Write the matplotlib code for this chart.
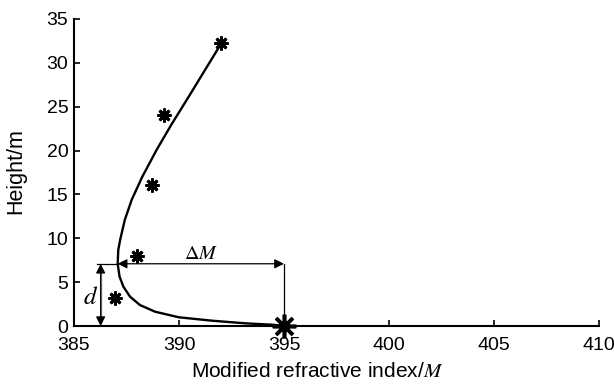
import matplotlib
matplotlib.use("Agg")
import matplotlib.pyplot as plt

plt.rcParams['font.family'] = ['Liberation Sans', 'DejaVu Sans']
plt.rcParams['mathtext.fontset'] = 'stix'

# Fitted profile (M, height)
curve_M = [395.0, 394.5, 393.2, 391.6, 390.0, 388.86, 388.14, 387.67, 387.35,
           387.17, 387.08, 387.11, 387.2, 387.42, 387.75, 388.25, 388.94,
           389.65, 390.48, 391.22, 392.0]
curve_h = [0.0, 0.15, 0.31, 0.61, 1.0, 1.64, 2.4, 3.35, 4.5,
           5.64, 7.1, 8.7, 9.84, 12.1, 14.4, 17.0, 20.1,
           23.0, 26.2, 29.1, 32.15]

# Measured points
meas_M = [392.0, 389.3, 388.7, 388.0, 386.95]
meas_h = [32.2, 24.0, 16.1, 8.0, 3.2]
surf_M = [395.0]
surf_h = [0.0]

duct_d = 7.1
duct_left = 386.1
duct_arrow_x = 386.27
curve_min = 387.08

xticks = [385, 390, 395, 400, 405, 410]
yticks = [0, 5, 10, 15, 20, 25, 30, 35]

fig = plt.figure(figsize=(6.14, 3.85), dpi=100)
ax = fig.add_axes([0.1205, 0.153, 0.855, 0.798])

ax.plot(curve_M, curve_h, color='black', lw=1.7, zorder=3,
        solid_joinstyle='round', solid_capstyle='round')
ax.plot(meas_M, meas_h, linestyle='none', marker=(8, 2, 0), markersize=10,
        markeredgewidth=2.0, color='black', zorder=4)
ax.plot(surf_M, surf_h, linestyle='none', marker=(8, 2, 0), markersize=17,
        markeredgewidth=2.6, color='black', zorder=5, clip_on=False)

# duct annotation lines
ax.plot([duct_left, curve_min], [duct_d, duct_d], color='black', lw=0.9)
ax.annotate('', xy=(curve_min, duct_d), xytext=(395.0, duct_d),
            arrowprops=dict(arrowstyle='<|-|>', color='black', lw=0.9,
                            mutation_scale=14, shrinkA=0, shrinkB=0))
ax.plot([395.0, 395.0], [0, duct_d], color='black', lw=0.9)
ax.annotate('', xy=(duct_arrow_x, 0), xytext=(duct_arrow_x, duct_d),
            arrowprops=dict(arrowstyle='<|-|>', color='black', lw=0.9,
                            mutation_scale=14, shrinkA=0, shrinkB=0))
ax.plot([duct_arrow_x, duct_arrow_x], [0.6, duct_d - 0.6], color='#888888', lw=1.0)

ax.text(385.79, 3.26, r'$d$', fontsize=18, ha='center', va='center')
ax.text(391.05, 8.3, r'$\Delta M$', fontsize=14.5, ha='center', va='center')

ax.set_xlim(385, 410)
ax.set_ylim(0, 35)
ax.set_xticks(xticks)
ax.set_yticks(yticks)
ax.tick_params(direction='in', length=4, width=1.2, labelsize=14)
ax.tick_params(axis='x', pad=8)
ax.tick_params(axis='y', pad=4)
for s in ['top', 'right']:
    ax.spines[s].set_visible(False)
for s in ['left', 'bottom']:
    ax.spines[s].set_linewidth(1.5)

ax.set_xlabel(r'Modified refractive index/$M$', fontsize=15)
ax.set_ylabel('Height/m', fontsize=15.5)
ax.xaxis.set_label_coords(0.464, -0.118)
ax.yaxis.set_label_coords(-0.09, 0.503)

fig.savefig('out.png', dpi=100)
